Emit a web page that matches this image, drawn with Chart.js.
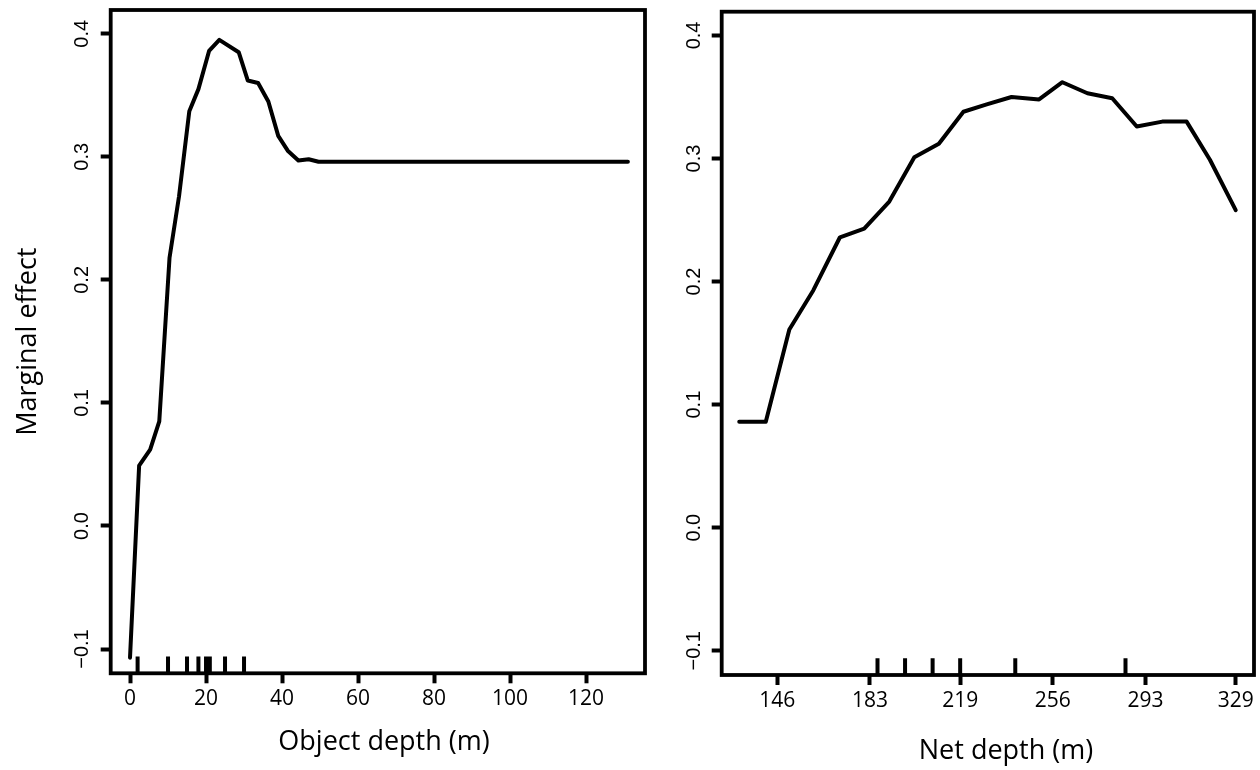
<!DOCTYPE html>
<html><head><meta charset="utf-8">
<script src="https://cdn.jsdelivr.net/npm/chart.js@4.4.1/dist/chart.umd.min.js"></script>
<style>
html,body{margin:0;padding:0;background:#fff;}
#wrap{position:relative;width:1260px;height:770px;overflow:hidden;background:#fff;}
#c1{position:absolute;left:0;top:0;}
#c2{position:absolute;left:660px;top:0;}
</style></head><body>
<div id="wrap"><canvas id="c1" width="680" height="770"></canvas><canvas id="c2" width="600" height="770"></canvas></div>
<script>
// ---- data ----
const objDepth  = [0, 2.4, 5.3, 7.7, 10.4, 12.9, 15.6, 18.0, 20.8, 23.5, 28.6, 31.0, 33.7, 36.4, 39.0, 41.5, 44.3, 47.0, 49.6, 131];
const objEffect = [-0.107, 0.049, 0.062, 0.085, 0.218, 0.268, 0.337, 0.355, 0.386, 0.395, 0.385, 0.362, 0.360, 0.345, 0.317, 0.305, 0.297, 0.298, 0.296, 0.296];
const objRug    = [2, 10, 15, 18, 20, 21, 25, 30];
const objTicks  = [0, 20, 40, 60, 80, 100, 120];

const netDepth  = [130.8, 141.4, 150.8, 160.4, 171.0, 180.7, 190.7, 200.7, 210.5, 220.3, 229.6, 239.5, 250.5, 259.8, 269.8, 279.7, 289.5, 299.7, 309.4, 318.7, 329.0];
const netEffect = [0.086, 0.086, 0.161, 0.193, 0.236, 0.243, 0.265, 0.301, 0.312, 0.338, 0.344, 0.350, 0.348, 0.362, 0.353, 0.349, 0.326, 0.330, 0.330, 0.299, 0.258];
const netRug    = [186, 197, 208, 219, 241, 285];
const netTicks  = [146, 183, 219, 256, 293, 329];

const effectTicks  = [-0.1, 0.0, 0.1, 0.2, 0.3, 0.4];
const effectLabels = ['\u22120.1', '0.0', '0.1', '0.2', '0.3', '0.4'];

const yTitle = 'Marginal effect';
const xTitleObj = 'Object depth (m)';
const xTitleNet = 'Net depth (m)';

// ---- helpers ----
const LW = 4;
function decor(cfg) {
  return {
    id: 'decor',
    afterDraw(chart) {
      const ctx = chart.ctx, a = chart.chartArea;
      const xs = chart.scales.x, ys = chart.scales.y;
      ctx.save();
      ctx.strokeStyle = '#000';
      ctx.lineWidth = 3.8;
      ctx.lineCap = 'butt';
      ctx.strokeRect(a.left, a.top, a.right - a.left, a.bottom - a.top);
      // rug
      ctx.lineWidth = LW;
      ctx.beginPath();
      cfg.rug.forEach(v => {
        const px = xs.getPixelForValue(v);
        ctx.moveTo(px, a.bottom);
        ctx.lineTo(px, a.bottom - 16.7);
      });
      ctx.stroke();
      // y tick labels (rotated)
      ctx.fillStyle = '#000';
      ctx.font = '20px "Liberation Sans", Arial, sans-serif';
      ctx.textAlign = 'center';
      ctx.textBaseline = 'middle';
      effectTicks.forEach((v, i) => {
        const py = ys.getPixelForValue(v);
        ctx.save();
        ctx.translate(a.left - cfg.yLabOff, py);
        ctx.rotate(-Math.PI / 2);
        ctx.fillText(effectLabels[i], 0, 0);
        ctx.restore();
      });
      // x title
      ctx.font = '27px "Open Sans", sans-serif';
      ctx.textBaseline = 'alphabetic';
      ctx.fillText(cfg.xTitle, cfg.xTitleX, cfg.xTitleY);
      if (cfg.yTitle) {
        ctx.save();
        ctx.translate(cfg.yTitleX, (a.top + a.bottom) / 2);
        ctx.rotate(-Math.PI / 2);
        ctx.textBaseline = 'middle';
        ctx.fillText(cfg.yTitle, 0, 0);
        ctx.restore();
      }
      ctx.restore();
    }
  };
}

function makePanel(canvas, xs, ys, cfg) {
  return new Chart(canvas, {
    type: 'line',
    data: {
      datasets: [{
        data: xs.map((x, i) => ({x: x, y: ys[i]})),
        borderColor: '#000',
        borderWidth: LW,
        pointRadius: 0,
        tension: 0,
        fill: false,
        borderJoinStyle: 'round',
        borderCapStyle: 'round'
      }]
    },
    options: {
      responsive: false,
      animation: false,
      devicePixelRatio: 1,
      layout: { padding: cfg.padding },
      plugins: { legend: { display: false }, tooltip: { enabled: false } },
      scales: {
        x: {
          type: 'linear',
          min: cfg.xMin, max: cfg.xMax,
          afterBuildTicks: s => { s.ticks = cfg.xTicks.map(v => ({value: v})); },
          afterFit: s => { s.height = 50; },
          border: { display: false },
          grid: { display: true, drawOnChartArea: false, drawTicks: true, tickLength: 10, tickWidth: LW, tickColor: '#000', color: '#000' },
          ticks: {
            autoSkip: false, maxRotation: 0, minRotation: 0,
            color: '#000', padding: 3,
            font: { family: '"Open Sans", sans-serif', size: 21 },
            callback: v => String(v)
          }
        },
        y: {
          type: 'linear',
          min: -0.1197, max: 0.4193,
          afterBuildTicks: s => { s.ticks = effectTicks.map(v => ({value: v})); },
          afterFit: s => { s.width = cfg.yWidth; },
          border: { display: false },
          grid: { display: true, drawOnChartArea: false, drawTicks: true, tickLength: 10, tickWidth: LW, tickColor: '#000', color: '#000' },
          ticks: { display: false }
        }
      }
    },
    plugins: [decor(cfg)]
  });
}

makePanel(document.getElementById('c1'), objDepth, objEffect, {
  padding: { left: 0, top: 10, right: 35, bottom: 46.7 },
  yWidth: 110.7,
  xMin: -5.08, xMax: 135.5,
  xTicks: objTicks,
  rug: objRug,
  yLabOff: 28,
  xTitle: xTitleObj, xTitleX: 384, xTitleY: 750,
  yTitle: yTitle, yTitleX: 28
});

makePanel(document.getElementById('c2'), netDepth, netEffect, {
  padding: { left: 0, top: 11.7, right: 6, bottom: 45 },
  yWidth: 61.7,
  xMin: 123.8, xMax: 336.3,
  xTicks: netTicks,
  rug: netRug,
  yLabOff: 27,
  xTitle: xTitleNet, xTitleX: 346, xTitleY: 759,
  yTitle: null
});
</script>
</body></html>
